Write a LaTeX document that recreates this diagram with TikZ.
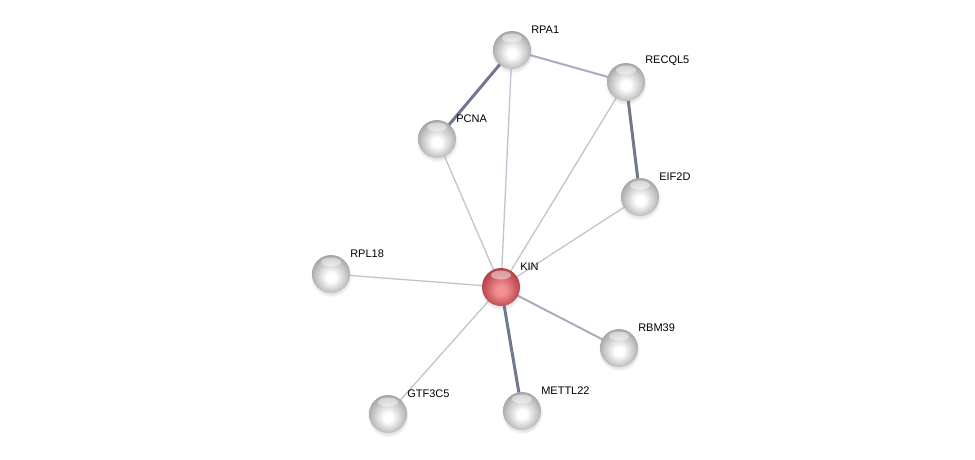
\documentclass[tikz,border=0pt]{standalone}
\usepackage{fontspec}
\setmainfont{Liberation Sans}
\usetikzlibrary{shadows,backgrounds}
\definecolor{thinedge}{RGB}{192,195,210}
\definecolor{midedge}{RGB}{168,172,192}
\definecolor{thickedge}{RGB}{112,119,145}
\definecolor{ballmid}{RGB}{222,222,222}
\definecolor{balledge}{RGB}{198,198,198}
\definecolor{ballrim}{RGB}{165,165,165}
\definecolor{redrim}{RGB}{175,66,72}
\definecolor{rededge}{RGB}{200,88,94}
\definecolor{redmid}{RGB}{222,112,116}
\definecolor{redcore}{RGB}{242,145,147}
% glassy balls, lit from below (node radius = 25bp)
\pgfdeclareradialshading{glassgray}{\pgfpoint{0bp}{-5bp}}{color(0bp)=(white); color(6bp)=(white); color(14bp)=(ballmid); color(20bp)=(balledge); color(27bp)=(ballrim); color(50bp)=(ballrim)}
\pgfdeclareradialshading{glassred}{\pgfpoint{0bp}{-5bp}}{color(0bp)=(redcore); color(6bp)=(redcore); color(14bp)=(redmid); color(20bp)=(rededge); color(27bp)=(redrim); color(50bp)=(redrim)}
\tikzset{
  protein/.style={circle, minimum size=38pt, inner sep=0pt, shading=glassgray,
    circular drop shadow={shadow xshift=0pt, shadow yshift=-2pt, opacity=0.2},
    path picture={\fill[white, opacity=0.45]
      ([yshift=-7pt]path picture bounding box.north) ellipse (10pt and 4.5pt);}},
  query/.style={protein, shading=glassred},
  lbl/.style={anchor=south west, inner sep=0pt, xshift=5.5pt, yshift=2.5pt,
    font=\fontsize{11}{13}\selectfont},
  thin/.style={draw=thinedge, line width=1.3pt},
  mid/.style={draw=midedge, line width=2pt},
  thick/.style={draw=thickedge, line width=3pt}
}
\begin{document}
\begin{tikzpicture}[x=1pt, y=-1pt] % pixel-like grid, origin top left
\useasboundingbox (0,0) rectangle (975,459);
% Proteins
\node[query, label={[lbl]45:KIN}] (kin) at (501,287) {}; % query protein
\node[protein, label={[lbl]45:RPA1}] (rpa1) at (512,50) {};
\node[protein, label={[lbl]45:RECQL5}] (recql5) at (626,82) {};
\node[protein, label={[lbl]45:PCNA}] (pcna) at (437,139) {};
\node[protein, label={[lbl]45:EIF2D}] (eif2d) at (640,197) {};
\node[protein, label={[lbl]45:RPL18}] (rpl18) at (331,274) {};
\node[protein, label={[lbl]45:RBM39}] (rbm39) at (619,348) {};
\node[protein, label={[lbl]45:GTF3C5}] (gtf3c5) at (388,414) {};
\node[protein, label={[lbl]45:METTL22}] (mettl22) at (522,411) {};
% Interactions, drawn behind the proteins
\begin{scope}[on background layer]
\draw[thick] (rpa1.center) -- (pcna.center);
\draw[thick] (recql5.center) -- (eif2d.center);
\draw[thick] (kin.center) -- (mettl22.center);
\draw[mid] (rpa1.center) -- (recql5.center);
\draw[mid] (kin.center) -- (rbm39.center);
\foreach \p in {pcna,rpa1,recql5,eif2d,rpl18,gtf3c5}
  \draw[thin] (kin.center) -- (\p.center); % weak links of KIN
\end{scope}
\end{tikzpicture}
\end{document}
